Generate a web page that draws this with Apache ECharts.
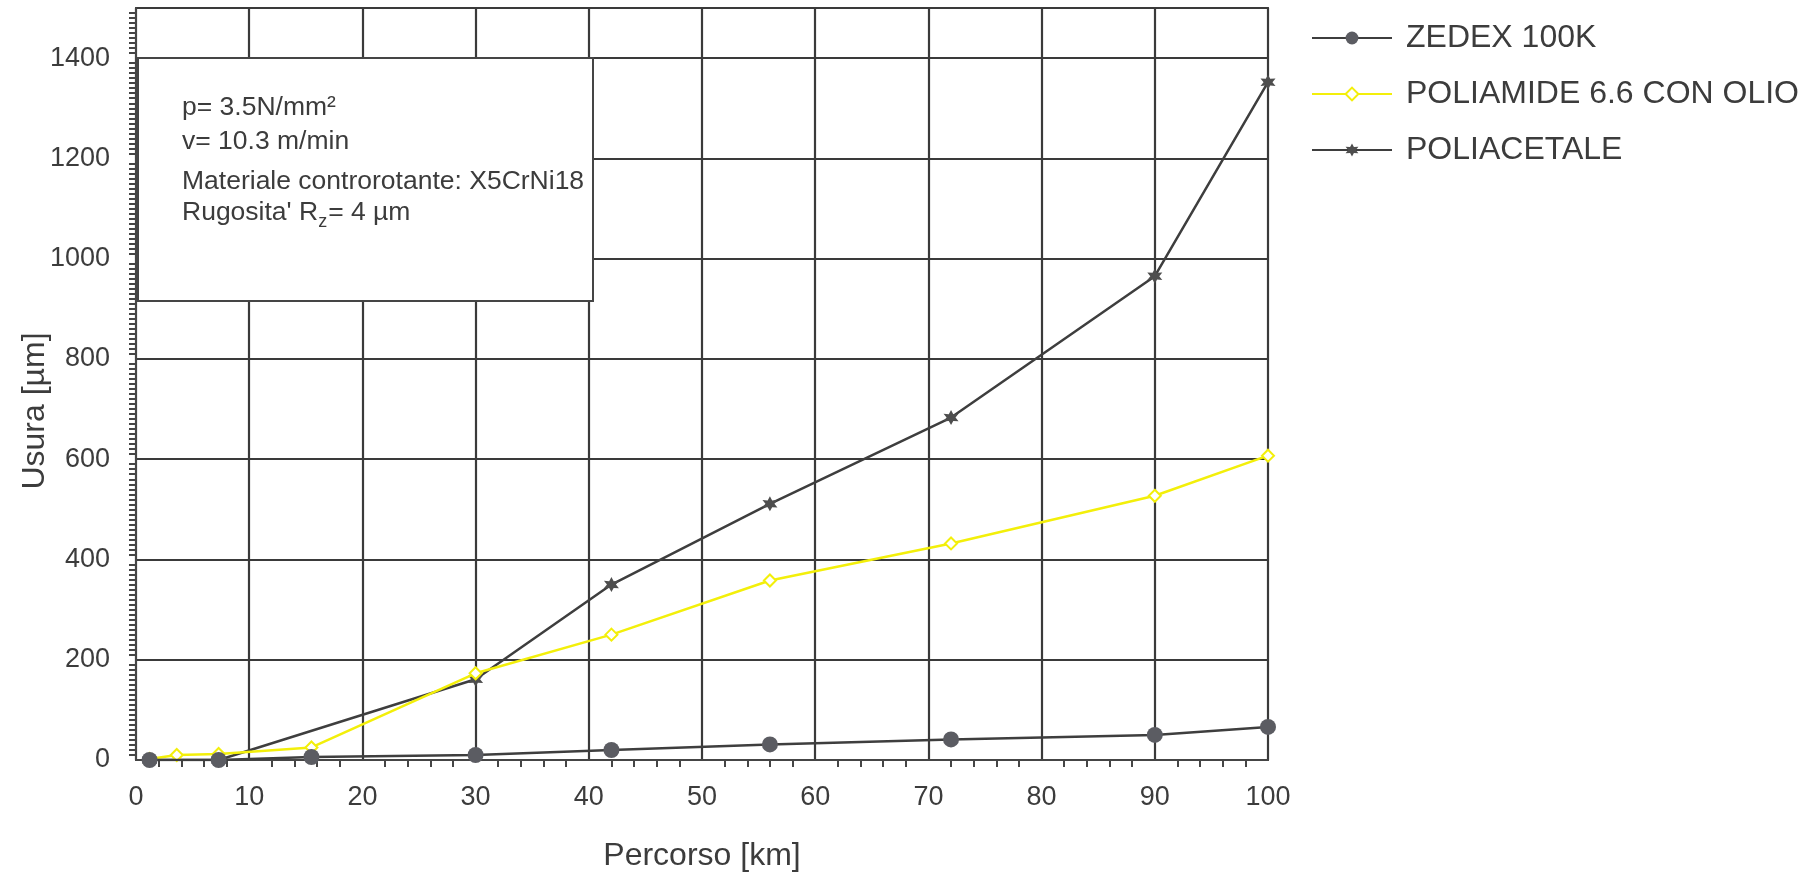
<!DOCTYPE html>
<html>
<head>
<meta charset="utf-8">
<script src="https://cdn.jsdelivr.net/npm/echarts@6/dist/echarts.min.js"></script>
<style>
  html, body { margin: 0; padding: 0; background: #fff; }
  #chart { width: 1811px; height: 877px; }
</style>
</head>
<body>
<div id="chart"></div>
<script>
// ---- data ----
const seriesNames = ['ZEDEX 100K', 'POLIAMIDE 6.6 CON OLIO', 'POLIACETALE'];

const zedexX = [1.2, 7.3, 15.5, 30, 42, 56, 72, 90, 100];
const zedexY = [0, 0, 6, 10, 20, 31, 41, 50, 66];

const poliamideX = [1.2, 3.6, 7.3, 15.5, 30, 42, 56, 72, 90, 100];
const poliamideY = [2, 10, 12, 25, 173, 250, 358, 432, 527, 607];

const poliacetaleX = [1.2, 7.3, 30, 42, 56, 72, 90, 100];
const poliacetaleY = [0, 0, 161, 350, 511, 683, 965, 1352];

const xTicks = [0, 10, 20, 30, 40, 50, 60, 70, 80, 90, 100];
const yTicks = [0, 200, 400, 600, 800, 1000, 1200, 1400];

const xAxisTitle = 'Percorso [km]';
const yAxisTitle = 'Usura [µm]';

const infoLines = [
  'p= 3.5N/mm²',
  'v= 10.3 m/min',
  'Materiale controrotante: X5CrNi18'
];
const roughness = ["Rugosita' R", 'z', '= 4 µm'];

// ---- chart ----
const FONT = '"Liberation Sans", Arial, Helvetica, sans-serif';
const DARK = '#454545';
const TXT = '#3c3c3c';
const pair = (xs, ys) => xs.map((x, i) => [x, ys[i]]);
const starPath = 'path://M0,-10 L2.6,-4.5 L8.7,-5 L5.2,0 L8.7,5 L2.6,4.5 L0,10 L-2.6,4.5 L-8.7,5 L-5.2,0 L-8.7,-5 L-2.6,-4.5 Z';

// measure text widths for the subscript layout
const mctx = document.createElement('canvas').getContext('2d');
function tw(text, size) { mctx.font = size + 'px ' + FONT; return mctx.measureText(text).width; }

const BOX_FS = 26.5;
const SUB_FS = 18;
const boxX = 182;
const rX1 = boxX + tw(roughness[0], BOX_FS);
const rX2 = rX1 + tw(roughness[1], SUB_FS) + 1;

const chart = echarts.init(document.getElementById('chart'), null, { renderer: 'canvas' });

const option = {
  backgroundColor: '#ffffff',
  animation: false,
  textStyle: { fontFamily: FONT },
  grid: {
    left: 136, right: 543, top: 8, bottom: 107,
    show: true, borderColor: DARK, borderWidth: 2, backgroundColor: 'transparent'
  },
  legend: {
    orient: 'vertical',
    left: 1306, top: 17,
    data: seriesNames,
    itemWidth: 80, itemHeight: 16, itemGap: 24,
    textStyle: { fontFamily: FONT, fontSize: 32, color: TXT, lineHeight: 32, padding: [0, 0, 0, 9] },
    selectedMode: false
  },
  xAxis: {
    type: 'value',
    min: xTicks[0], max: xTicks[xTicks.length - 1], interval: 10,
    name: xAxisTitle, nameLocation: 'middle', nameGap: 80,
    nameTextStyle: { fontFamily: FONT, fontSize: 32, color: TXT },
    axisLine: { show: true, lineStyle: { color: DARK, width: 2 } },
    axisTick: { show: false },
    minorTick: { show: true, splitNumber: 5, length: 7, lineStyle: { color: DARK, width: 2 } },
    axisLabel: { fontFamily: FONT, fontSize: 27, color: TXT, margin: 24 },
    splitLine: { show: true, lineStyle: { color: '#3a3a3a', width: 2.2 } }
  },
  yAxis: {
    type: 'value',
    min: yTicks[0], max: 1500, interval: 200,
    axisLine: { show: true, lineStyle: { color: DARK, width: 2 } },
    axisTick: { show: false },
    minorTick: { show: true, splitNumber: 20, length: 7, lineStyle: { color: DARK, width: 2 } },
    axisLabel: {
      fontFamily: FONT, fontSize: 27, color: TXT, margin: 26, showMaxLabel: false,
      formatter: v => (yTicks.indexOf(v) >= 0 ? String(v) : '')
    },
    splitLine: { show: true, lineStyle: { color: '#3a3a3a', width: 2.2 } }
  },
  series: [
    {
      name: seriesNames[0], type: 'line', z: 5,
      data: pair(zedexX, zedexY),
      symbol: 'circle', symbolSize: 16,
      lineStyle: { color: '#3e3e3e', width: 2.5 },
      itemStyle: { color: '#5b5c62', borderColor: '#5b5c62', borderWidth: 0 }
    },
    {
      name: seriesNames[2], type: 'line', z: 3,
      data: pair(poliacetaleX, poliacetaleY),
      symbol: starPath, symbolSize: 15,
      lineStyle: { color: '#3e3e3e', width: 2.5 },
      itemStyle: { color: '#4e4e4e', borderWidth: 0 }
    },
    {
      name: seriesNames[1], type: 'line', z: 4,
      data: pair(poliamideX, poliamideY),
      symbol: 'diamond', symbolSize: 12,
      lineStyle: { color: '#f3ef0a', width: 2.5 },
      itemStyle: { color: '#ffffff', borderColor: '#f3ef0a', borderWidth: 2 }
    }
  ],
  graphic: [
    {
      type: 'text', z: 50, x: 35, y: 411, rotation: Math.PI / 2,
      style: { text: yAxisTitle, font: '32px ' + FONT, fill: TXT, align: 'center', verticalAlign: 'middle' }
    },
    {
      type: 'group', z: 100,
      children: [
        {
          type: 'rect', z: 100,
          shape: { x: 138, y: 58, width: 455, height: 243 },
          style: { fill: '#ffffff', stroke: DARK, lineWidth: 2 }
        },
        {
          type: 'text', z: 101, x: boxX, y: 108,
          style: { text: infoLines[0], font: BOX_FS + 'px ' + FONT, fill: TXT, verticalAlign: 'middle' }
        },
        {
          type: 'text', z: 101, x: boxX, y: 142,
          style: { text: infoLines[1], font: BOX_FS + 'px ' + FONT, fill: TXT, verticalAlign: 'middle' }
        },
        {
          type: 'text', z: 101, x: boxX, y: 182,
          style: { text: infoLines[2], font: BOX_FS + 'px ' + FONT, fill: TXT, verticalAlign: 'middle' }
        },
        {
          type: 'text', z: 101, x: boxX, y: 213,
          style: { text: roughness[0], font: BOX_FS + 'px ' + FONT, fill: TXT, verticalAlign: 'middle' }
        },
        {
          type: 'text', z: 101, x: rX1, y: 222,
          style: { text: roughness[1], font: SUB_FS + 'px ' + FONT, fill: TXT, verticalAlign: 'middle' }
        },
        {
          type: 'text', z: 101, x: rX2, y: 213,
          style: { text: roughness[2], font: BOX_FS + 'px ' + FONT, fill: TXT, verticalAlign: 'middle' }
        }
      ]
    }
  ]
};

chart.setOption(option);
</script>
</body>
</html>
